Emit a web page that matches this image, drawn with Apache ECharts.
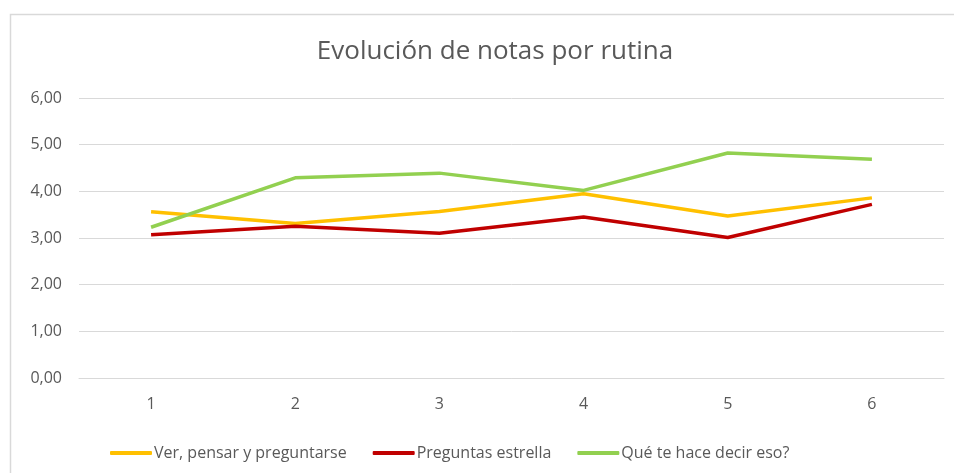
<!DOCTYPE html>
<html>
<head>
<meta charset="utf-8">
<script src="https://cdn.jsdelivr.net/npm/echarts@6/dist/echarts.min.js"></script>
<style>
  html, body { margin: 0; padding: 0; background: #fff; }
  #chart { width: 954px; height: 473px; }
</style>
</head>
<body>
<div id="chart"></div>
<script>
var categories = ['1', '2', '3', '4', '5', '6'];
var verPensar = [3.56, 3.31, 3.57, 3.95, 3.47, 3.86];
var preguntasEstrella = [3.07, 3.25, 3.10, 3.45, 3.01, 3.72];
var queTeHace = [3.23, 4.29, 4.39, 4.02, 4.82, 4.69];
var seriesNames = ['Ver, pensar y preguntarse', 'Preguntas estrella', 'Qué te hace decir eso?'];

var myChart = echarts.init(document.getElementById('chart'));

function lineSerie(name, data, color) {
    return {
        name: name,
        type: 'line',
        data: data,
        symbol: 'none',
        smooth: false,
        lineStyle: { color: color, width: 3.5 },
        itemStyle: { color: color }
    };
}

var option = {
    animation: false,
    backgroundColor: '#fff',
    textStyle: { fontFamily: 'Open Sans' },
    graphic: [{
        type: 'rect',
        shape: { x: 10.5, y: 14.5, width: 970, height: 480 },
        style: { fill: 'none', stroke: '#D9D9D9', lineWidth: 1.5 },
        silent: true
    }],
    title: {
        text: 'Evolución de notas por rutina',
        left: 490,
        textAlign: 'center',
        top: 34,
        textStyle: {
            color: '#595959',
            fontSize: 26,
            fontWeight: 'normal',
            fontFamily: 'Open Sans'
        }
    },
    legend: {
        data: seriesNames,
        left: 105,
        top: 440,
        itemWidth: 42,
        itemHeight: 4,
        itemGap: 26,
        icon: 'roundRect',
        textStyle: { color: '#595959', fontSize: 16, fontFamily: 'Open Sans', padding: [0, 0, 0, -3] }
    },
    grid: {
        left: 79,
        right: 10,
        top: 98,
        bottom: 95,
        containLabel: false
    },
    xAxis: {
        type: 'category',
        data: categories,
        boundaryGap: true,
        axisLine: { show: true, lineStyle: { color: '#D9D9D9', width: 1 } },
        axisTick: { show: false },
        axisLabel: { color: '#595959', fontSize: 16, margin: 18 }
    },
    yAxis: {
        type: 'value',
        min: 0,
        max: 6,
        interval: 1,
        axisLine: { show: false },
        axisTick: { show: false },
        splitLine: { lineStyle: { color: '#D9D9D9', width: 1 } },
        axisLabel: {
            color: '#595959',
            fontSize: 16,
            margin: 17,
            formatter: function (v) { return v.toFixed(2).replace('.', ','); }
        }
    },
    series: [
        lineSerie(seriesNames[0], verPensar, '#FFC000'),
        lineSerie(seriesNames[1], preguntasEstrella, '#C00000'),
        lineSerie(seriesNames[2], queTeHace, '#92D050')
    ]
};

if (option && typeof option === "object") {
    myChart.setOption(option, true);
}
</script>
</body>
</html>
